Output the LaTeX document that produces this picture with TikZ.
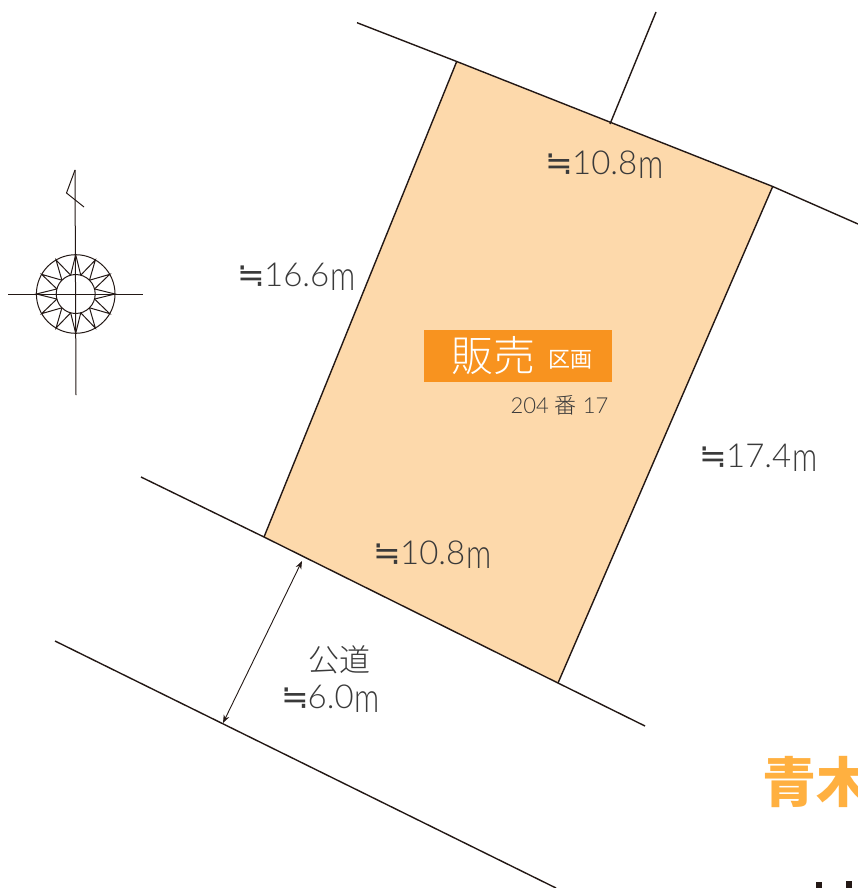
\documentclass[tikz,border=0pt]{standalone}
\usepackage{fontspec}
\usetikzlibrary{arrows.meta,calc}
\newfontfamily\jp[UprightFont=* Light]{Noto Sans CJK JP}
\newfontfamily\jpb{Noto Sans CJK JP}
\newfontfamily\lt[UprightFont=* Light]{Lato}
\newfontfamily\sym{DejaVu Sans}
\definecolor{plot}{HTML}{FDD9AB}
\definecolor{tag}{HTML}{F8931F}
\definecolor{ink}{HTML}{231815}
\definecolor{txt}{HTML}{3A3A3A}
\definecolor{brand}{HTML}{FFB040}
\newcommand{\aprx}{{\sym ≒}\kern-1pt}
\newcommand{\mtr}{\kern1pt\raisebox{-4pt}{\scalebox{0.95}[1.25]{\lt m}}}
\tikzset{
  lineb/.style={draw=ink,line width=1.4pt},
  thinl/.style={draw=ink,line width=1pt},
  dim/.style={text=txt,inner sep=0pt,font=\lt\fontsize{33}{33}\selectfont},
}
\begin{document}
\begin{tikzpicture}[x=1pt,y=-1pt]
\useasboundingbox (0,0) rectangle (858,888);
\clip (0,0) rectangle (858,888);
\fill[plot] (456.7,61.5) -- (772.7,186.5) -- (558,683) -- (264,537) -- cycle;
\draw[lineb] (357,22.7) -- (456.7,61.5) -- (772.7,186.5) -- (858,224);
\draw[lineb] (656,12) -- (610,124);
\draw[lineb] (456.7,61.5) -- (264,537);
\draw[lineb] (772.7,186.5) -- (558,683);
\draw[lineb] (141,477) -- (264,537) -- (558,683) -- (645,726);
\draw[lineb] (55,641) -- (556,888);
\coordinate (ra) at (302,561);
\coordinate (rb) at (223,723);
\draw[ink,line width=0.9pt,{Stealth[length=8pt,width=6pt]}-{Stealth[length=8pt,width=6pt]}] (ra) -- (rb);
% compass
\coordinate (c) at (75.7,294);
\draw[thinl] (c) circle (39.3);
\draw[thinl] (c) circle (19.5);
\draw[thinl] (75,170) -- (76,395);
\draw[thinl] (8,294) -- (143,294);
\draw[thinl] (75,170) -- (66.5,193) -- (84,207);
\foreach \a in {0,30,...,330}{
  \draw[thinl] ($(c)+(\a-15:19.5)$) -- ($(c)+(\a:39.3)$) -- ($(c)+(\a+15:19.5)$);
}
% labels
\node[dim] (l1) at (604.5,164.5) {\aprx 10.8\mtr};
\node[dim] (l2) at (296.5,276.5) {\aprx 16.6\mtr};
\node[dim] (l3) at (758.5,457.5) {\aprx 17.4\mtr};
\node[dim] (l4) at (432.5,554.5) {\aprx 10.8\mtr};
\node[dim] (l5) at (330.5,698.5) {\aprx 6.0\mtr};
\node[text=txt,inner sep=0pt,font=\jp\fontsize{31}{31}\selectfont] (l6) at (339,660) {公道};
\node[fill=tag,minimum width=188pt,minimum height=52pt,inner sep=0pt] (tagbox) at (518,356) {};
\node[text=white,inner sep=0pt,font=\jp\fontsize{42}{42}\selectfont] (t1) at (493,356) {販売};
\node[text=white,inner sep=0pt,font=\jpb\fontsize{22}{22}\selectfont] (t2) at (570,360) {区画};
\node[text=txt,inner sep=0pt,font=\lt\fontsize{22}{22}\selectfont] (t3) at (559.5,405) {204 {\jp\fontsize{22}{22}\selectfont 番} 17};
\node[anchor=west,text=brand,inner sep=0pt,font=\jpb\bfseries\fontsize{54}{54}\selectfont] (b1) at (762,782) {青木};
\fill[ink] (816,882) rectangle (822,888);
\fill[ink] (846,881) rectangle (852,888);
\end{tikzpicture}
\end{document}
